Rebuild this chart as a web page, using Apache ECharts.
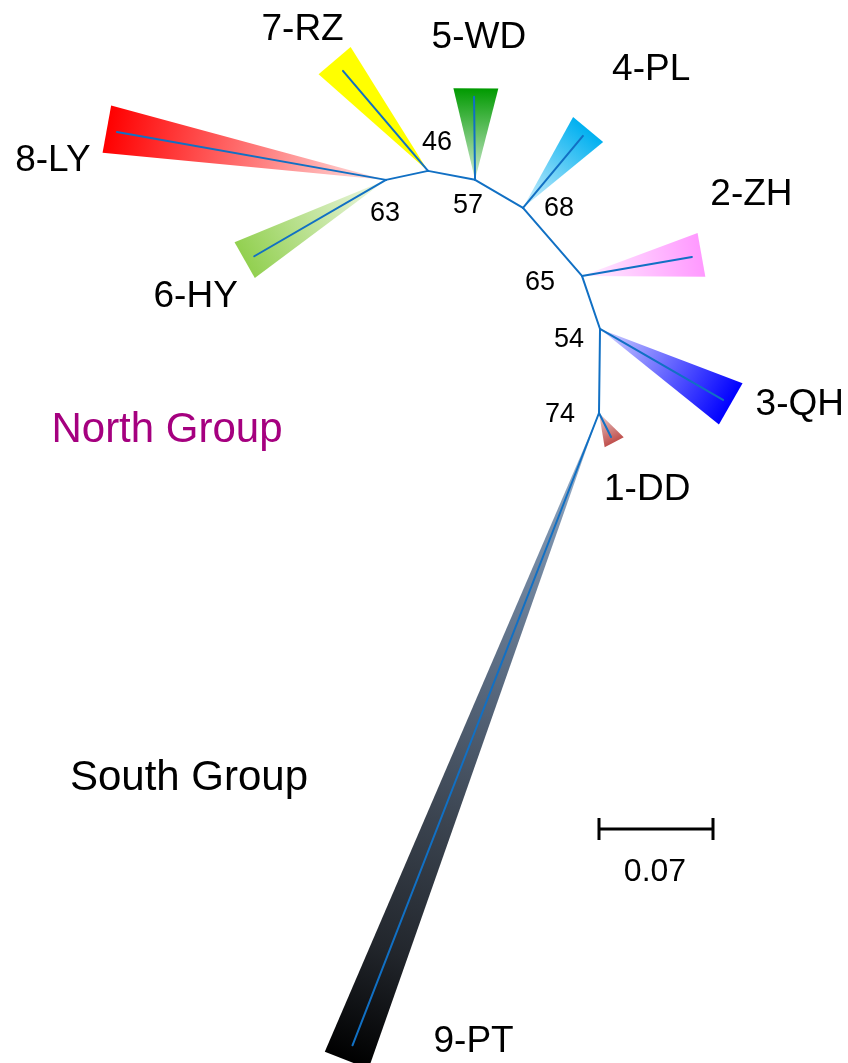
<!DOCTYPE html>
<html>
<head>
<meta charset="utf-8">
<title>Unrooted tree of populations</title>
<script src="https://cdn.jsdelivr.net/npm/echarts@6/dist/echarts.min.js"></script>
<style>
  html, body { margin: 0; padding: 0; background: #ffffff; }
  #main { width: 848px; height: 1063px; }
</style>
</head>
<body>
<div id="main"></div>
<script>
// ---- Tree data (branch lengths in substitutions per site, directions in degrees) ----
// Internal nodes: the root node "G" first, every other node hangs off its parent.
const nodeNames   = ['G', 'F', 'E', 'D', 'C', 'B', 'A'];
const nodeParents = [null, 'G', 'F', 'E', 'D', 'C', 'B'];
const nodeLengths = [0, 0.0516, 0.0344, 0.0553, 0.0341, 0.0294, 0.0264];
const nodeAngles  = [0, 89.3, 108.8, 130.9, 149.7, 169.2, 192.1];
const bootstrap   = [74, 54, 65, 68, 57, 46, 63];

// Collapsed clades (populations)
const clades       = ['1-DD', '9-PT', '3-QH', '2-ZH', '4-PL', '5-WD', '7-RZ', '8-LY', '6-HY'];
const cladeParents = ['G', 'G', 'F', 'E', 'D', 'C', 'B', 'A', 'A'];
const cladeLengths = [0.0165, 0.4167, 0.0872, 0.0685, 0.0575, 0.0510, 0.0806, 0.1678, 0.0935];
const cladeAngles  = [-63.4, -111.3, -30.0, 9.8, 50.2, 90.7, 130.4, 169.9, 210.1];
// depth = deepest member of the clade, spread = half width of the clade triangle
const cladeDepths  = [0.0202, 0.4266, 0.0925, 0.0745, 0.0626, 0.0562, 0.0887, 0.1742, 0.0998];
const cladeSpreads = [0.0066, 0.0144, 0.0146, 0.0137, 0.0120, 0.0138, 0.0129, 0.0147, 0.0126];
const cladeTriAngles = [-62.5, -111.3, -29.8, 10.0, 50.3, 89.5, 130.3, 169.7, 209.6];

const scaleBarLength = 0.07;
const scaleBarLabel  = '0.07';
const groupNames = ['North Group', 'South Group'];

// ---- Styles ----
const BRANCH_COLOR = '#1170c4';
const FONT = '"Liberation Sans", Arial, Helvetica, sans-serif';
// colour ramps from the apex (offset 0) to the base (offset 1) of each clade triangle
const cladeGradients = [
  [[0, '#ecd2d1'], [1, '#c0504d']],
  [[0, '#b4c6dc'], [0.17, '#7d93ae'], [0.44, '#55657a'], [0.63, '#3b4450'], [0.83, '#22262c'], [1, '#000000']],
  [[0, '#d6d6ff'], [1, '#0000ff']],
  [[0, '#fff0ff'], [1, '#ff99ff']],
  [[0, '#d2f0fc'], [1, '#00b0f0']],
  [[0, '#d4ecd4'], [1, '#009a00']],
  [[0, '#ffff00'], [1, '#ffff00']],
  [[0, '#ffe6e6'], [1, '#ff0000']],
  [[0, '#f2f9ea'], [1, '#92d050']]
];
const cladeLabelOffsets = [[33, 48], [127, -18], [69, 1], [50, -60], [63, -60], [3, -51], [-32, -31], [-54, 32], [-49, 37]];
const bootstrapOffsets = [[-39, 2], [-31, 11], [-42, 7], [36, 1], [-7, 26], [9, -28], [-1, 34]];
const groupColors = ['#a5007f', '#000000'];

// ---- Layout: one data unit spans the same number of pixels on both axes ----
const W = 848, H = 1063;
const UNIT_PX = 114 / 0.07;          // pixels per substitution unit
const ROOT_PX = [599, 413];          // where the root node sits on the page
const xMin = -ROOT_PX[0] / UNIT_PX, xMax = (W - ROOT_PX[0]) / UNIT_PX;
const yMax = ROOT_PX[1] / UNIT_PX,  yMin = -(H - ROOT_PX[1]) / UNIT_PX;

const rad = d => d * Math.PI / 180;
const pos = {};
nodeNames.forEach((n, i) => {
  if (nodeParents[i] === null) { pos[n] = [0, 0]; return; }
  const p = pos[nodeParents[i]], a = rad(nodeAngles[i]);
  pos[n] = [p[0] + nodeLengths[i] * Math.cos(a), p[1] + nodeLengths[i] * Math.sin(a)];
});

// branch segments: internal edges + clade stems
const branchData = [];
nodeNames.forEach((n, i) => {
  if (nodeParents[i] === null) return;
  const p = pos[nodeParents[i]];
  branchData.push([p[0], p[1], pos[n][0], pos[n][1]]);
});
const tipPos = clades.map((c, i) => {
  const p = pos[cladeParents[i]], a = rad(cladeAngles[i]);
  return [p[0] + cladeLengths[i] * Math.cos(a), p[1] + cladeLengths[i] * Math.sin(a)];
});
tipPos.forEach((t, i) => {
  const p = pos[cladeParents[i]];
  branchData.push([p[0], p[1], t[0], t[1]]);
});

// clade triangles: apex at the parent node, base across the deepest member
const triData = clades.map((c, i) => {
  const p = pos[cladeParents[i]], a = rad(cladeTriAngles[i]);
  const mx = p[0] + cladeDepths[i] * Math.cos(a), my = p[1] + cladeDepths[i] * Math.sin(a);
  const nx = -Math.sin(a) * cladeSpreads[i], ny = Math.cos(a) * cladeSpreads[i];
  return [p[0], p[1], mx, my, mx + nx, my + ny, mx - nx, my - ny, i];
});

const bootstrapData = nodeNames.map((n, i) => [pos[n][0], pos[n][1], i]);
const cladeLabelData = triData.map(t => [t[2], t[3], t[8]]);

const chart = echarts.init(document.getElementById('main'));
chart.setOption({
  backgroundColor: '#ffffff',
  animation: false,
  grid: { left: 0, right: 0, top: 0, bottom: 0 },
  xAxis: { type: 'value', min: xMin, max: xMax, show: false },
  yAxis: { type: 'value', min: yMin, max: yMax, show: false },
  graphic: [
    { type: 'text', x: 167, y: 430, z: 10,
      style: { text: groupNames[0], fill: groupColors[0], font: '42px ' + FONT, align: 'center', verticalAlign: 'middle' } },
    { type: 'text', x: 189, y: 778, z: 10,
      style: { text: groupNames[1], fill: groupColors[1], font: '42px ' + FONT, align: 'center', verticalAlign: 'middle' } }
  ],
  series: [
    {
      type: 'custom', name: 'clades', z: 1, silent: true,
      encode: { x: [0, 2, 4, 6], y: [1, 3, 5, 7] },
      data: triData,
      renderItem: (params, api) => {
        const i = api.value(8);
        const apex = api.coord([api.value(0), api.value(1)]);
        const mid = api.coord([api.value(2), api.value(3)]);
        const c1 = api.coord([api.value(4), api.value(5)]);
        const c2 = api.coord([api.value(6), api.value(7)]);
        return {
          type: 'polygon',
          shape: { points: [apex, c1, c2] },
          style: {
            fill: {
              type: 'linear', global: true,
              x: apex[0], y: apex[1], x2: mid[0], y2: mid[1],
              colorStops: cladeGradients[i].map(s => ({ offset: s[0], color: s[1] }))
            }
          }
        };
      }
    },
    {
      type: 'custom', name: 'branches', z: 2, silent: true,
      encode: { x: [0, 2], y: [1, 3] },
      data: branchData,
      renderItem: (params, api) => {
        const a = api.coord([api.value(0), api.value(1)]);
        const b = api.coord([api.value(2), api.value(3)]);
        return {
          type: 'line',
          shape: { x1: a[0], y1: a[1], x2: b[0], y2: b[1] },
          style: { stroke: BRANCH_COLOR, lineWidth: 2, lineCap: 'round' }
        };
      }
    },
    {
      type: 'custom', name: 'bootstrap', z: 3, silent: true,
      encode: { x: 0, y: 1 },
      data: bootstrapData,
      renderItem: (params, api) => {
        const i = api.value(2);
        const p = api.coord([api.value(0), api.value(1)]);
        return {
          type: 'text',
          x: p[0] + bootstrapOffsets[i][0], y: p[1] + bootstrapOffsets[i][1],
          style: { text: String(bootstrap[i]), fill: '#000', font: '27px ' + FONT, align: 'center', verticalAlign: 'middle' }
        };
      }
    },
    {
      type: 'custom', name: 'clade labels', z: 3, silent: true,
      encode: { x: 0, y: 1 },
      data: cladeLabelData,
      renderItem: (params, api) => {
        const i = api.value(2);
        const p = api.coord([api.value(0), api.value(1)]);
        return {
          type: 'text',
          x: p[0] + cladeLabelOffsets[i][0], y: p[1] + cladeLabelOffsets[i][1],
          style: { text: clades[i], fill: '#000', font: '37px ' + FONT, align: 'center', verticalAlign: 'middle' }
        };
      }
    },
    {
      type: 'custom', name: 'scale bar', z: 3, silent: true,
      encode: { x: [0, 2], y: 1 },
      data: [[0, -416 / UNIT_PX, scaleBarLength]],
      renderItem: (params, api) => {
        const x0 = api.value(0), y0 = api.value(1), len = api.value(2);
        const a = api.coord([x0, y0]);
        const b = api.coord([x0 + len, y0]);
        const st = { stroke: '#000', lineWidth: 3 };
        return {
          type: 'group',
          children: [
            { type: 'line', shape: { x1: a[0], y1: a[1], x2: b[0], y2: b[1] }, style: st },
            { type: 'line', shape: { x1: a[0], y1: a[1] - 11, x2: a[0], y2: a[1] + 11 }, style: st },
            { type: 'line', shape: { x1: b[0], y1: b[1] - 11, x2: b[0], y2: b[1] + 11 }, style: st },
            { type: 'text', x: (a[0] + b[0]) / 2 - 1, y: a[1] + 43,
              style: { text: scaleBarLabel, fill: '#000', font: '32px ' + FONT, align: 'center', verticalAlign: 'middle' } }
          ]
        };
      }
    }
  ]
});
</script>
</body>
</html>
